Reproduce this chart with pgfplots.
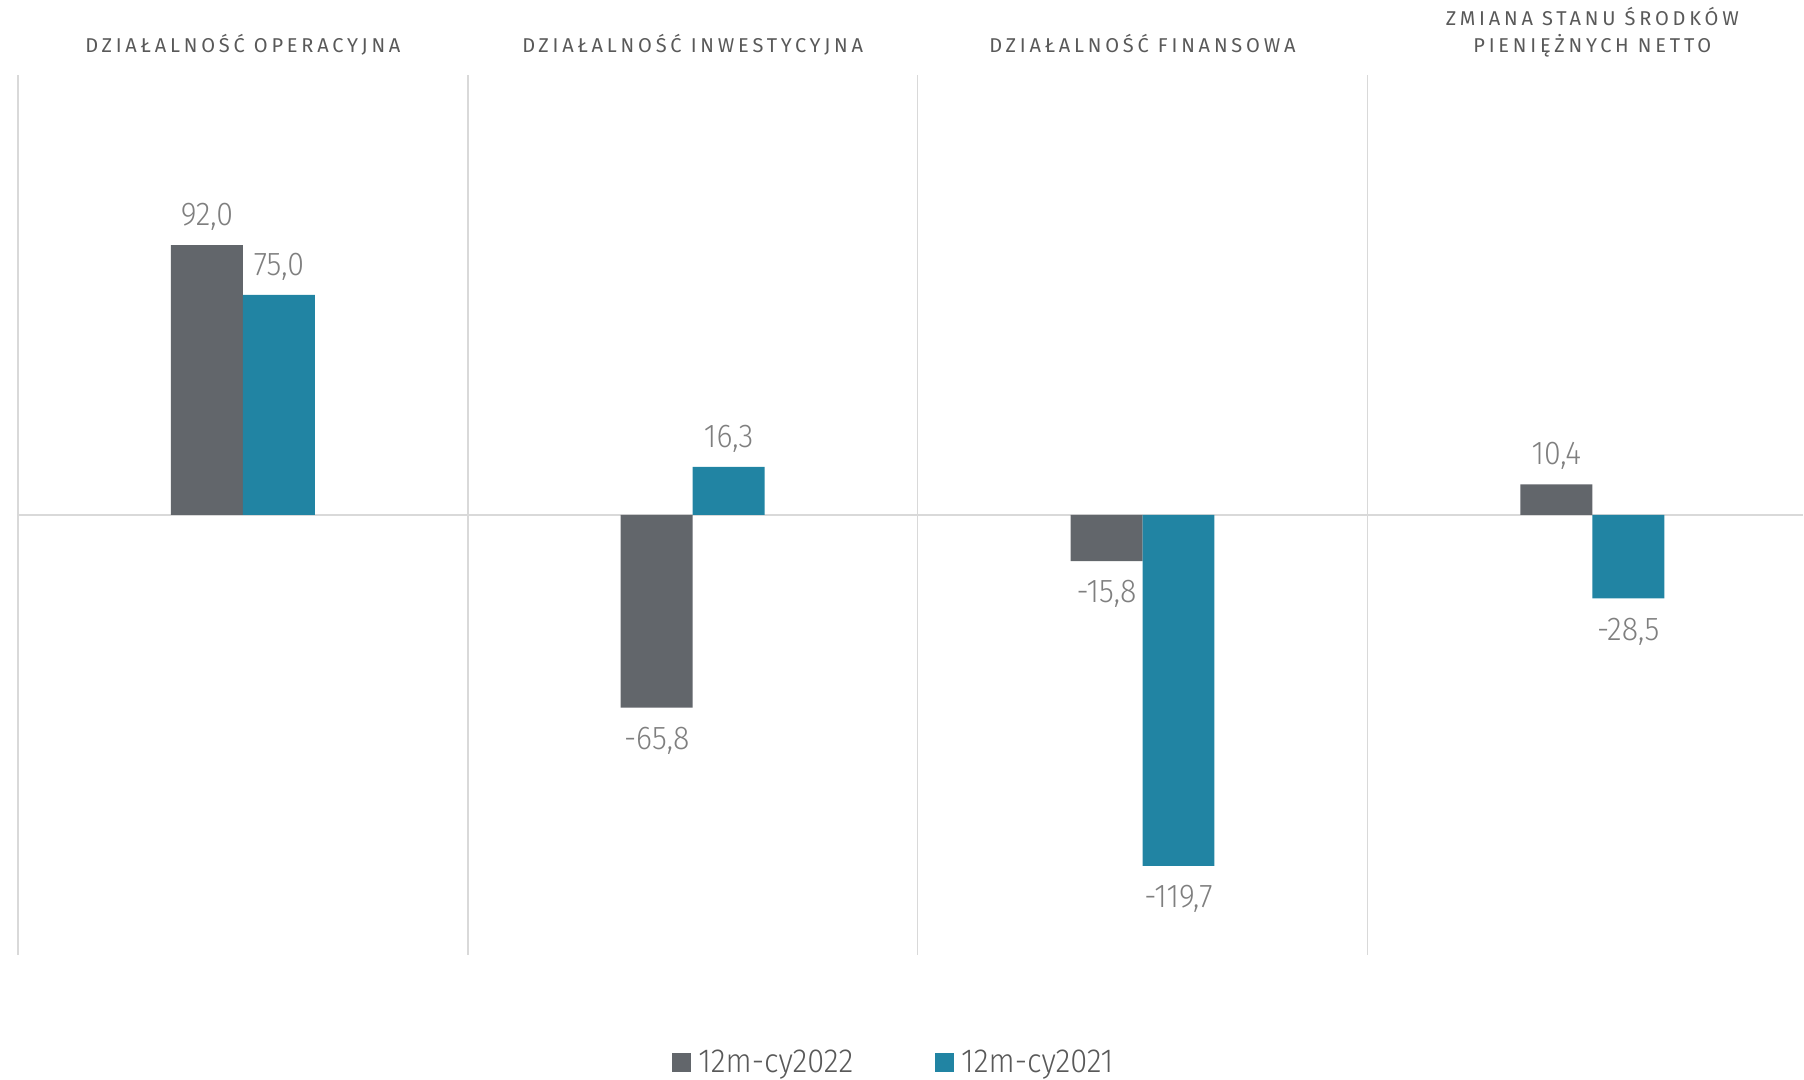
\documentclass[border=0pt]{standalone}
\usepackage{fontspec}
\setmainfont{Fira Sans Light}[FakeStretch=0.92]
\newfontfamily\titlefont{Fira Sans}[LetterSpace=19]
\usepackage{pgfplots}
\pgfplotsset{compat=1.18}

\definecolor{bargray}{HTML}{62666B}
\definecolor{barteal}{HTML}{2184A3}
\definecolor{gridc}{HTML}{D9D9D9}
\definecolor{titlec}{HTML}{595959}
\definecolor{labelc}{HTML}{7F7F7F}
\definecolor{legc}{HTML}{595959}

\begin{document}
\begin{tikzpicture}
\path (0,0) rectangle (902pt,540pt); % page size
\begin{axis}[
	at={(9pt,62.5pt)}, anchor=south west,
	scale only axis, width=893pt, height=440pt,
	xmin=-0.5, xmax=3.469,
	ymin=-150, ymax=150,
	ybar=0pt, bar width=0.16,
	xtick={-0.5,0.5,1.5,2.5}, ytick={0},
	xticklabels={}, yticklabels={},
	xmajorgrids, ymajorgrids,
	major grid style={draw=gridc, line width=0.75pt},
	major tick length=0pt,
	axis line style={draw=none},
	clip=false,
	/pgf/number format/assume math mode=true,
	nodes near coords={\pgfmathprintnumber[fixed,fixed zerofill,precision=1,use comma]{\pgfplotspointmeta}},
	every node near coord/.append style={font=\fontsize{16.5}{19}\selectfont, text=labelc, inner xsep=0pt, inner ysep=9.5pt, text depth=0pt},
	legend columns=2,
	legend style={at={(0.49,-0.1227)}, anchor=center, draw=none, fill=none,
		font=\fontsize{16.7}{20}\selectfont, text=legc,
		nodes={inner sep=0pt},
		/tikz/every odd column/.append style={column sep=3.5pt},
		/tikz/every even column/.append style={column sep=41pt}},
	legend image code/.code={\fill[#1] (0pt,-4.75pt) rectangle (9.5pt,4.75pt);},
]
\addplot[fill=bargray, draw=none] coordinates {(0,92.0) (1,-65.8) (2,-15.8) (3,10.4)};
\addlegendentry{12m-cy2022}
\addplot[fill=barteal, draw=none] coordinates {(0,75.0) (1,16.3) (2,-119.7) (3,-28.5)};
\addlegendentry{12m-cy2021}

\begin{scope}[every node/.style={anchor=base, text=titlec, font=\titlefont\fontsize{10}{12}\selectfont, inner sep=0pt}]
\node at (axis cs:0,150) [yshift=11pt] {DZIAŁALNOŚĆ OPERACYJNA};
\node at (axis cs:1,150) [yshift=11pt] {DZIAŁALNOŚĆ INWESTYCYJNA};
\node at (axis cs:2,150) [yshift=11pt] {DZIAŁALNOŚĆ FINANSOWA};
\node at (axis cs:3,150) [yshift=24.5pt] {ZMIANA STANU ŚRODKÓW};
\node at (axis cs:3,150) [yshift=11pt] {PIENIĘŻNYCH NETTO};
\end{scope}
\end{axis}
\end{tikzpicture}
\end{document}
